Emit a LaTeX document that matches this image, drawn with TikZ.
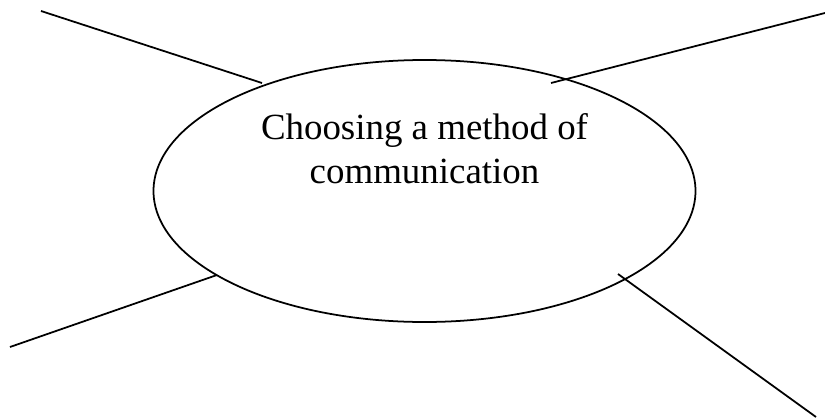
\documentclass[tikz,border=0pt]{standalone}
\usepackage{fontspec}
\setmainfont{Liberation Serif}
\usetikzlibrary{shapes.geometric}

\begin{document}
\begin{tikzpicture}
			%%%%% START %%%%%
			\useasboundingbox (0, 0) rectangle (16.5, 8.36);
			
			\node[draw, ellipse, line width = 1pt, minimum width = 10.84cm, minimum height = 5.24cm] (hub) at (8.49, 4.54) {};
			\node[align = center, font = \fontsize{21}{25}\selectfont] (topic) at (8.49, 5.39) {Choosing a method of\\communication};
			
			\coordinate (nwIn) at (5.24, 6.70);
			\coordinate (nwOut) at (0.82, 8.14);
			\coordinate (neIn) at (11.02, 6.70);
			\coordinate (neOut) at (16.50, 8.10);
			\coordinate (swIn) at (4.34, 2.86);
			\coordinate (swOut) at (0.20, 1.42);
			\coordinate (seIn) at (12.36, 2.88);
			\coordinate (seOut) at (16.32, 0.02);
			
			\draw[line width = 1pt] (nwIn) -- (nwOut);
			\draw[line width = 1pt] (neIn) -- (neOut);
			\draw[line width = 1pt] (swIn) -- (swOut);
			\draw[line width = 1pt] (seIn) -- (seOut);
			%%%%% END %%%%%
		\end{tikzpicture}
\end{document}
